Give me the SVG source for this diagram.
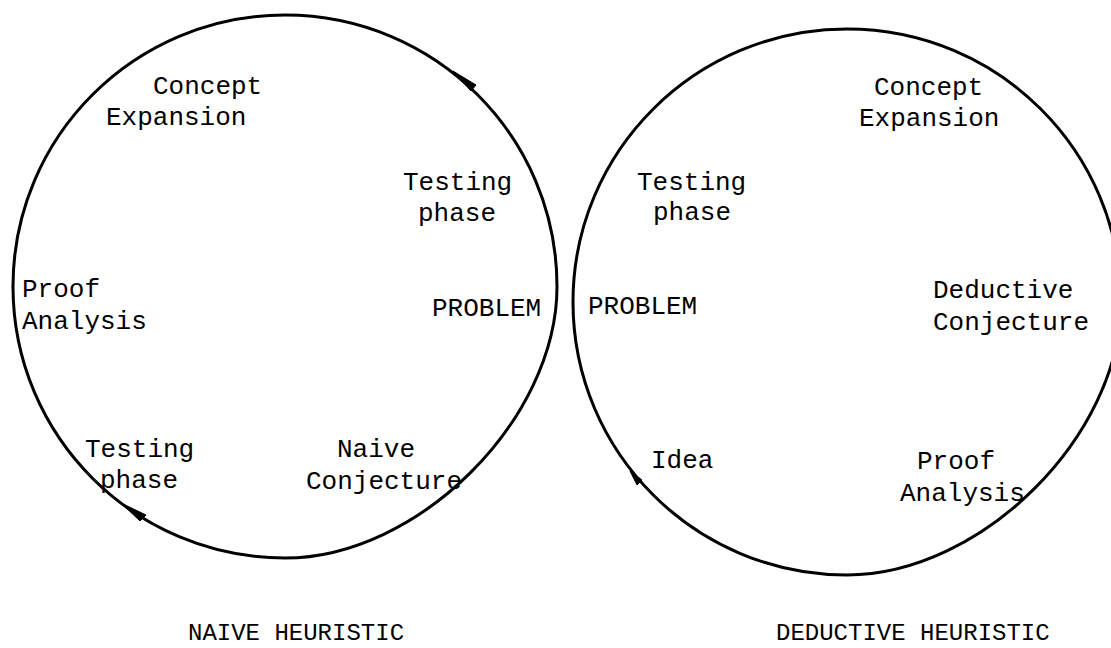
<svg xmlns="http://www.w3.org/2000/svg" width="1111" height="648" viewBox="0 0 1111 648">
<style>
  .ring { fill: none; stroke: #000; stroke-width: 3; }
  .head { fill: #000; stroke: #000; stroke-width: 1; stroke-linejoin: round; }
  text { font-family: "Liberation Mono", "Courier New", monospace; font-size: 26px; fill: #000; }
  .title { font-size: 24px; }
</style>
<rect width="1111" height="648" fill="#fff"/>
<g id="connectors">
  <path class="ring" d="M557,286.5 C557,419.5 418.3,558 285,558 C134.8,558 13,436.5 13,286.5 C13,136.5 134.8,15 285,15 C435.2,15 557,136.5 557,286.5 Z"/>
  <path class="ring" d="M1121,302 C1121,435.8 981.3,575 847,575 C695.7,575 573,452.8 573,302 C573,151.2 695.7,29 847,29 C998.3,29 1121,151.2 1121,302 Z"/>
  <polygon class="head" points="453,71 476,85 471,91"/>
  <polygon class="head" points="121,503 146,515 140,521"/>
  <polygon class="head" points="630,471 642,480 637,485"/>
</g>
<g id="n-left-concept"><text x="153" y="94">Concept</text><text x="106" y="125">Expansion</text></g>
<g id="n-left-testing1"><text x="403" y="190">Testing</text><text x="418" y="221">phase</text></g>
<g id="n-left-proof"><text x="22" y="297">Proof</text><text x="22" y="329">Analysis</text></g>
<g id="n-left-problem"><text x="432" y="316">PROBLEM</text></g>
<g id="n-left-testing2"><text x="85" y="457">Testing</text><text x="100" y="488">phase</text></g>
<g id="n-left-naive"><text x="337" y="457">Naive</text><text x="306" y="489">Conjecture</text></g>
<g id="n-left-title"><text class="title" x="188" y="640">NAIVE HEURISTIC</text></g>
<g id="n-right-concept"><text x="874" y="95">Concept</text><text x="859" y="126">Expansion</text></g>
<g id="n-right-testing"><text x="637" y="190">Testing</text><text x="653" y="220">phase</text></g>
<g id="n-right-problem"><text x="588" y="314">PROBLEM</text></g>
<g id="n-right-deductive"><text x="933" y="298">Deductive</text><text x="933" y="330">Conjecture</text></g>
<g id="n-right-idea"><text x="651" y="468">Idea</text></g>
<g id="n-right-proof"><text x="917" y="469">Proof</text><text x="900" y="501">Analysis</text></g>
<g id="n-right-title"><text class="title" x="776" y="640">DEDUCTIVE HEURISTIC</text></g>
</svg>
